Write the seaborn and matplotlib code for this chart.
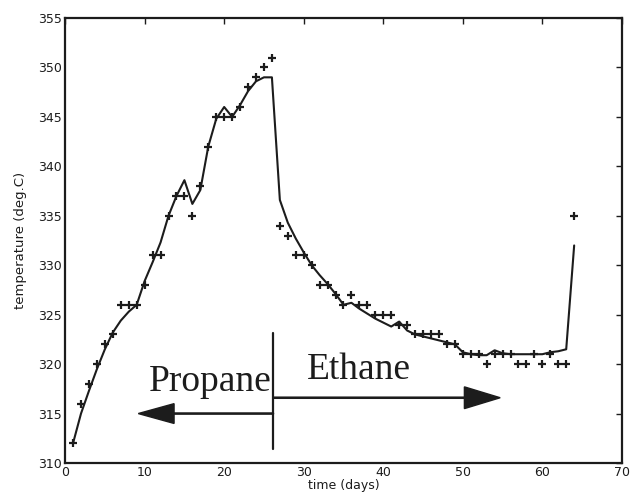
import matplotlib
matplotlib.use("Agg")
import matplotlib.pyplot as plt
import seaborn as sns

# measured reactor temperature (one reading per day)
days = list(range(1, 65))
temp_measured = [312, 316, 318, 320, 322, 323, 326, 326, 326, 328,
                 331, 331, 335, 337, 337, 335, 338, 342, 345, 345,
                 345, 346, 348, 349, 350, 351, 334, 333, 331, 331,
                 330, 328, 328, 327, 326, 327, 326, 326, 325, 325,
                 325, 324, 324, 323, 323, 323, 323, 322, 322, 321,
                 321, 321, 320, 321, 321, 321, 320, 320, 321, 320,
                 321, 320, 320, 335]

# model curve
temp_model = [312.0, 315.0, 317.3, 319.5, 321.5, 323.2, 324.4, 325.3, 326.0, 328.4,
              330.3, 332.3, 335.0, 337.0, 338.6, 336.2, 337.6, 342.0, 344.8, 346.0,
              345.0, 346.2, 347.6, 348.6, 349.0, 349.0, 336.6, 334.3, 332.7, 331.3,
              330.0, 329.0, 328.1, 327.1, 326.0, 326.2, 325.6, 325.1, 324.6, 324.2,
              323.8, 324.3, 323.4, 323.0, 322.8, 322.6, 322.4, 322.2, 322.0, 321.2,
              321.0, 320.9, 320.9, 321.4, 321.1, 321.0, 321.0, 321.0, 321.0, 321.0,
              321.2, 321.3, 321.5, 332.0]

switch_day = 26.2
feed_labels = ["Propane", "Ethane"]

ink = "#1c1c1c"

sns.set_style("white")
plt.rcParams["font.family"] = ["DejaVu Sans"]

fig = plt.figure(figsize=(6.32, 5.0), dpi=100)
ax = fig.add_axes([0.103, 0.074, 0.881, 0.89])

sns.lineplot(x=days, y=temp_model, ax=ax, color=ink, linewidth=1.5)
sns.scatterplot(x=days, y=temp_measured, ax=ax, marker="+", s=34,
                color=ink, linewidth=1.6)

# feed switch marker and arrows
ax.plot([switch_day, switch_day], [311.4, 323.1], color=ink, lw=1.6)
ax.arrow(switch_day, 315.0, 9.2 - switch_day, 0, width=0.12, head_width=2.0,
         head_length=4.5, length_includes_head=True, fc=ink, ec=ink)
ax.arrow(switch_day, 316.6, 54.7 - switch_day, 0, width=0.12, head_width=2.2,
         head_length=4.5, length_includes_head=True, fc=ink, ec=ink)
ax.text(10.5, 317.3, feed_labels[0], family="Liberation Serif", fontsize=27,
        va="baseline", ha="left", color=ink)
ax.text(30.4, 318.5, feed_labels[1], family="Liberation Serif", fontsize=27,
        va="baseline", ha="left", color=ink)

ax.set_xlim(0, 70)
ax.set_ylim(310, 355)
ax.set_xticks(range(0, 71, 10))
ax.set_yticks(range(310, 356, 5))
ax.tick_params(direction="in", length=4, width=1, top=True, right=True,
               labelsize=9, colors=ink, pad=2)
for sp in ax.spines.values():
    sp.set_linewidth(1.6)
    sp.set_color(ink)

ax.set_xlabel("time (days)", fontsize=9, labelpad=0, color=ink)
ax.set_ylabel("temperature (deg.C)", fontsize=9.5, labelpad=8, color=ink)

fig.savefig("out.png", dpi=100)
